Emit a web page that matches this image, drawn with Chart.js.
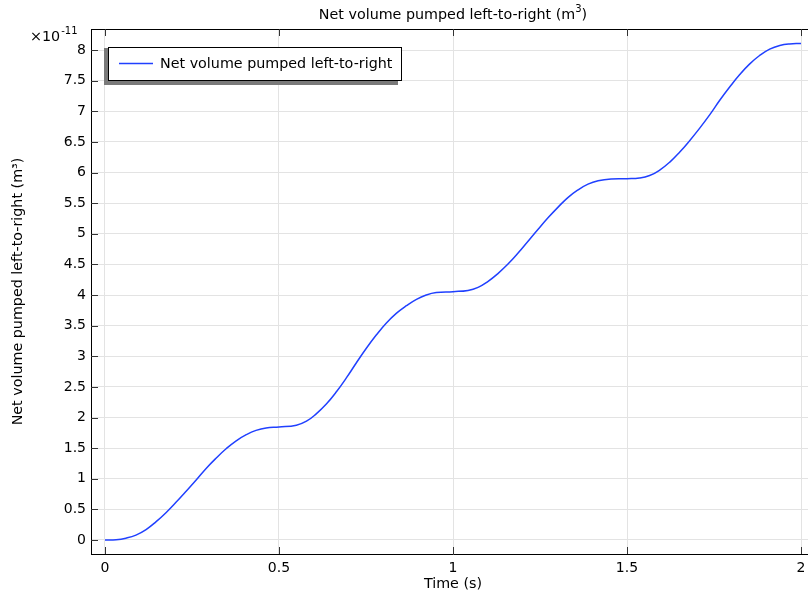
<!DOCTYPE html>
<html>
<head>
<meta charset="utf-8">
<script src="https://cdn.jsdelivr.net/npm/chart.js@4"></script>
<style>
  html, body { margin: 0; padding: 0; background: #fff; overflow: hidden; }
  #wrap { width: 830px; height: 595px; }
</style>
</head>
<body>
<div id="wrap"><canvas id="c" width="830" height="595"></canvas></div>
<script>
// Time samples (s)
const timeS = [
  0, 0.032, 0.06, 0.089, 0.118, 0.147, 0.176, 0.204, 0.233, 0.262, 0.29, 0.319, 0.348, 0.377, 0.406, 0.434, 0.463, 0.5,
  0.55, 0.579, 0.607, 0.636, 0.665, 0.694, 0.722, 0.751, 0.78, 0.808, 0.837, 0.866, 0.895, 0.923, 0.952, 1.0,
  1.043, 1.072, 1.10, 1.129, 1.158, 1.187, 1.215, 1.244, 1.273, 1.302, 1.33, 1.359, 1.388, 1.417, 1.455, 1.5,
  1.536, 1.565, 1.594, 1.623, 1.651, 1.68, 1.709, 1.738, 1.766, 1.795, 1.824, 1.852, 1.881, 1.91, 1.939, 1.967, 2.0
];
// Net volume pumped left-to-right, in units of 1e-11 m^3
const netVolume = [
  0, 0.005, 0.03, 0.08, 0.17, 0.30, 0.45, 0.615, 0.795, 0.98, 1.165, 1.335, 1.49, 1.62, 1.72, 1.79, 1.83, 1.845,
  1.875, 1.94, 2.06, 2.22, 2.42, 2.65, 2.89, 3.13, 3.35, 3.54, 3.70, 3.825, 3.93, 4.0, 4.04, 4.055,
  4.075, 4.125, 4.22, 4.35, 4.505, 4.685, 4.875, 5.07, 5.26, 5.435, 5.59, 5.715, 5.81, 5.865, 5.895, 5.90,
  5.91, 5.95, 6.04, 6.17, 6.33, 6.52, 6.725, 6.945, 7.175, 7.395, 7.60, 7.77, 7.91, 8.015, 8.075, 8.10, 8.105
];
const xTicks = [0, 0.5, 1, 1.5, 2];
const yTicks = [0, 0.5, 1, 1.5, 2, 2.5, 3, 3.5, 4, 4.5, 5, 5.5, 6, 6.5, 7, 7.5, 8];

const seriesName = 'Net volume pumped left-to-right';
const chartTitle = 'Net volume pumped left-to-right (m';
const FONT = '"DejaVu Sans", sans-serif';
const TXT = 14.3;
const LINE_BLUE = 'rgb(32,64,255)';

// Frame, inward tick marks, title, exponent and legend box
const decorations = {
  id: 'decorations',
  afterDraw(chart) {
    const ctx = chart.ctx;
    const a = chart.chartArea;
    const xs = chart.scales.x, ys = chart.scales.y;
    ctx.save();
    // top frame line
    ctx.strokeStyle = '#000';
    ctx.lineWidth = 1;
    ctx.beginPath();
    ctx.moveTo(a.left, a.top + 0.5);
    ctx.lineTo(a.right, a.top + 0.5);
    ctx.stroke();
    // inward ticks
    ctx.strokeStyle = '#333';
    ctx.beginPath();
    xTicks.forEach(v => {
      const px = Math.round(xs.getPixelForValue(v)) + 0.5;
      ctx.moveTo(px, a.bottom); ctx.lineTo(px, a.bottom - 7);
      ctx.moveTo(px, a.top); ctx.lineTo(px, a.top + 7);
    });
    yTicks.forEach(v => {
      const py = Math.round(ys.getPixelForValue(v)) + 0.5;
      ctx.moveTo(a.left, py); ctx.lineTo(a.left + 7, py);
    });
    ctx.stroke();

    // title with superscript
    ctx.fillStyle = '#000';
    ctx.textBaseline = 'alphabetic';
    ctx.font = TXT + 'px ' + FONT;
    const mainW = ctx.measureText(chartTitle).width;
    ctx.font = '10px ' + FONT;
    const supW = ctx.measureText('3').width;
    ctx.font = TXT + 'px ' + FONT;
    const closeW = ctx.measureText(')').width;
    const total = mainW + supW + closeW;
    let tx = (a.left + a.right) / 2 - total / 2;
    ctx.textAlign = 'left';
    ctx.fillText(chartTitle, tx, 19);
    ctx.font = '10px ' + FONT;
    ctx.fillText('3', tx + mainW, 12);
    ctx.font = TXT + 'px ' + FONT;
    ctx.fillText(')', tx + mainW + supW, 19);

    // axis exponent
    ctx.font = TXT + 'px ' + FONT;
    ctx.fillText('\u00d710', 30, 41);
    const bw = ctx.measureText('\u00d710').width;
    ctx.font = '10px ' + FONT;
    ctx.fillText('-11', 30 + bw + 1, 34);

    // legend with drop shadow
    const lx = 108, ly = 47, lw = 294, lh = 34;
    ctx.fillStyle = '#7a7a7a';
    ctx.fillRect(lx - 4, ly + 1, lw, lh + 3);
    ctx.fillStyle = '#fff';
    ctx.fillRect(lx, ly, lw, lh);
    ctx.strokeStyle = '#000';
    ctx.lineWidth = 1;
    ctx.strokeRect(lx + 0.5, ly + 0.5, lw - 1, lh - 1);
    ctx.strokeStyle = LINE_BLUE;
    ctx.lineWidth = 1.3;
    ctx.beginPath();
    ctx.moveTo(119, ly + 16.5); ctx.lineTo(153, ly + 16.5);
    ctx.stroke();
    ctx.fillStyle = '#000';
    ctx.font = TXT + 'px ' + FONT;
    ctx.textBaseline = 'middle';
    ctx.fillText(seriesName, 160, ly + 17);
    ctx.restore();
  }
};

new Chart(document.getElementById('c'), {
  type: 'line',
  data: {
    datasets: [{
      label: seriesName,
      data: timeS.map((t, i) => ({ x: t, y: netVolume[i] })),
      borderColor: LINE_BLUE,
      borderWidth: 1.5,
      pointRadius: 0,
      tension: 0.45,
      fill: false
    }]
  },
  options: {
    responsive: false,
    animation: false,
    layout: { padding: { top: 29, right: 15, left: 0, bottom: 0 } },
    plugins: { legend: { display: false }, tooltip: { enabled: false }, title: { display: false } },
    scales: {
      x: {
        type: 'linear',
        min: -0.0402,
        max: 2.0402,
        afterBuildTicks(s) { s.ticks = xTicks.map(v => ({ value: v })); },
        afterFit(s) { s.height = 41; },
        ticks: {
          color: '#000',
          font: { family: FONT, size: 14 },
          padding: 6,
          maxRotation: 0,
          callback: v => String(v)
        },
        grid: { color: '#e3e3e3', drawTicks: false },
        border: { color: '#000', width: 1 },
        title: {
          display: true,
          text: 'Time (s)',
          color: '#000',
          font: { family: FONT, size: TXT },
          padding: { top: 0, bottom: 2 }
        }
      },
      y: {
        type: 'linear',
        min: -0.2286,
        max: 8.343,
        afterBuildTicks(s) { s.ticks = yTicks.map(v => ({ value: v })); },
        afterFit(s) { s.width = 91; },
        ticks: {
          color: '#000',
          font: { family: FONT, size: 14 },
          padding: 5,
          callback: v => String(v)
        },
        grid: { color: '#e3e3e3', drawTicks: false },
        border: { color: '#000', width: 1 },
        title: {
          display: true,
          text: 'Net volume pumped left-to-right (m\u00b3)',
          color: '#000',
          font: { family: FONT, size: TXT },
          padding: { top: 10, bottom: 0 }
        }
      }
    }
  },
  plugins: [decorations]
});
</script>
</body>
</html>
